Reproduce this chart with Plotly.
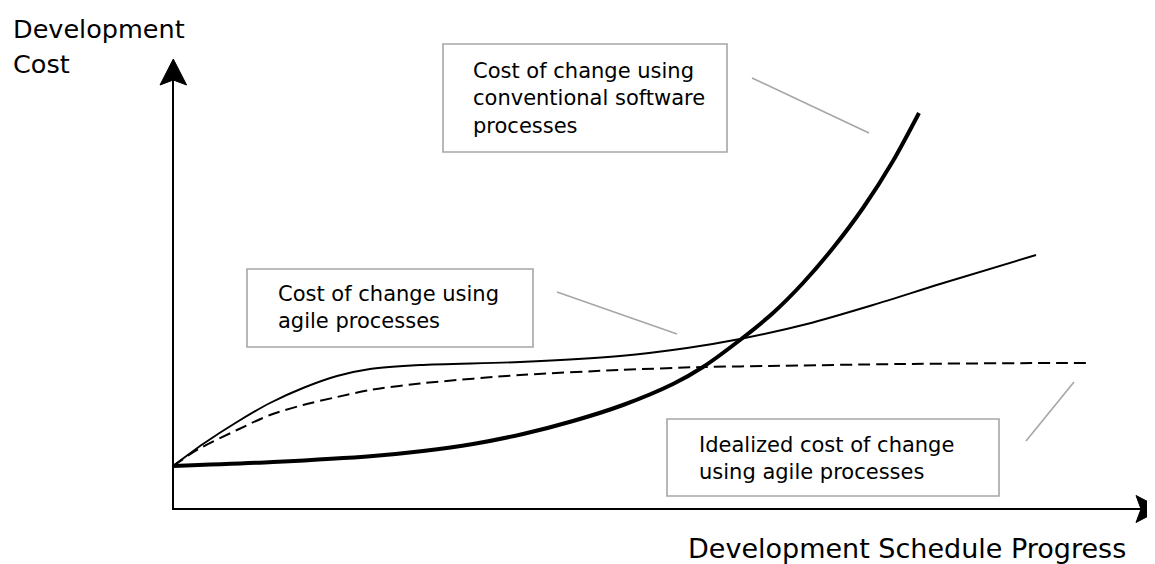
import plotly.graph_objects as go

# ---------------- data (schedule progress vs. development cost, arbitrary units) ----------------
conv_x = [0, 10, 20, 25, 30, 35, 40, 45, 50, 53, 56.7, 60, 63, 66, 69, 72, 74.6]
conv_y = [4.2, 4.6, 5.2, 5.7, 6.4, 7.4, 8.7, 10.3, 12.4, 14.1, 16.8, 19.5, 22.5, 26.0, 30.0, 34.7, 39.5]

agile_x = [0, 3.0, 6.4, 9.7, 13.0, 16.4, 19.7, 24.7, 34.7, 44.7, 51.4, 56.7, 63.4, 70.0, 76.7, 86.3]
agile_y = [4.2, 6.4, 8.6, 10.5, 12.0, 13.2, 13.9, 14.3, 14.6, 15.2, 16.0, 16.9, 18.4, 20.3, 22.4, 25.3]

ideal_x = [0, 2.4, 6.4, 9.7, 13.0, 16.4, 19.7, 24.7, 34.7, 44.7, 53.0, 59.7, 72.7, 88.4, 91.7]
ideal_y = [4.2, 5.8, 7.8, 9.3, 10.3, 11.1, 11.8, 12.45, 13.3, 13.8, 14.1, 14.2, 14.4, 14.5, 14.5]

y_label_lines = ["Development", "Cost"]
x_label = "Development Schedule Progress"
label_conv = "Cost of change using<br>conventional software<br>processes"
label_agile = "Cost of change using<br>agile processes"
label_ideal = "Idealized cost of change<br>using agile processes"

# ---------------- layout helpers (screen pixel -> axis units) ----------------
W, H = 1155, 564
BODY = 8  # default page margin around the plot div
OX, OY, S = 173, 508, 10.0


def X(px):
    return (px - OX) / S


def Y(py):
    return (OY - py) / S


FONT = "DejaVu Sans"
GRAY = "#a6a6a6"

fig = go.Figure()

fig.add_trace(go.Scatter(x=ideal_x, y=ideal_y, mode="lines",
                         line=dict(color="black", width=2, dash="12px,6px", shape="spline", smoothing=0.8),
                         hoverinfo="skip", showlegend=False))
fig.add_trace(go.Scatter(x=agile_x, y=agile_y, mode="lines",
                         line=dict(color="black", width=1.9, shape="spline", smoothing=0.8),
                         hoverinfo="skip", showlegend=False))
fig.add_trace(go.Scatter(x=conv_x, y=conv_y, mode="lines",
                         line=dict(color="black", width=4, shape="spline", smoothing=0.8),
                         hoverinfo="skip", showlegend=False))

shapes = []
# axes
shapes.append(dict(type="line", xref="x", yref="y", x0=X(173), y0=Y(509), x1=X(173), y1=Y(78),
                   line=dict(color="black", width=2)))
shapes.append(dict(type="line", xref="x", yref="y", x0=X(172), y0=Y(509), x1=X(1145), y1=Y(509),
                   line=dict(color="black", width=2)))


def arrow_path(pts):
    return "M " + " L ".join(f"{X(a)},{Y(b)}" for a, b in pts) + " Z"


shapes.append(dict(type="path", xref="x", yref="y",
                   path=arrow_path([(173.3, 59), (160, 85), (173.3, 80), (186.6, 85)]),
                   fillcolor="black", line=dict(color="black", width=1)))
shapes.append(dict(type="path", xref="x", yref="y",
                   path=arrow_path([(1162, 509), (1136, 495.5), (1141, 509), (1136, 522.5)]),
                   fillcolor="black", line=dict(color="black", width=1)))

# boxes
for (l, t, r, b) in [(443, 44, 727, 152), (247, 269, 533, 347), (667, 419, 999, 496)]:
    shapes.append(dict(type="rect", xref="x", yref="y", x0=X(l), y0=Y(b), x1=X(r), y1=Y(t),
                       line=dict(color=GRAY, width=1.6), fillcolor="rgba(0,0,0,0)"))
# leader lines
for (a, b, c, d) in [(752, 78, 869, 133), (557, 292, 677, 334), (1074, 382, 1026, 441)]:
    shapes.append(dict(type="line", xref="x", yref="y", x0=X(a), y0=Y(b), x1=X(c), y1=Y(d),
                       line=dict(color=GRAY, width=1.6)))

annotations = []


def add_text(text, left_px, baseline_px, size):
    top = baseline_px - 0.93 * size - 1
    annotations.append(dict(text=text, xref="x", yref="y", x=X(left_px - 2), y=Y(top),
                            xanchor="left", yanchor="top", align="left", showarrow=False,
                            font=dict(family=FONT, size=size, color="black")))


add_text(y_label_lines[0], 13, 37, 25.5)
add_text(y_label_lines[1], 13, 72, 25.5)
add_text(x_label, 688, 557, 27)
add_text(label_conv, 473, 77.3, 21)
add_text(label_agile, 278, 300.7, 21)
add_text(label_ideal, 699, 451.7, 21)

fig.update_layout(
    width=W - BODY, height=H - BODY, autosize=False,
    margin=dict(l=0, r=0, t=0, b=0, pad=0),
    paper_bgcolor="white", plot_bgcolor="white",
    xaxis=dict(range=[X(BODY), X(W)], visible=False, fixedrange=True),
    yaxis=dict(range=[Y(H), Y(BODY)], visible=False, fixedrange=True),
    shapes=shapes, annotations=annotations, showlegend=False,
)

fig.write_html("out.html")
